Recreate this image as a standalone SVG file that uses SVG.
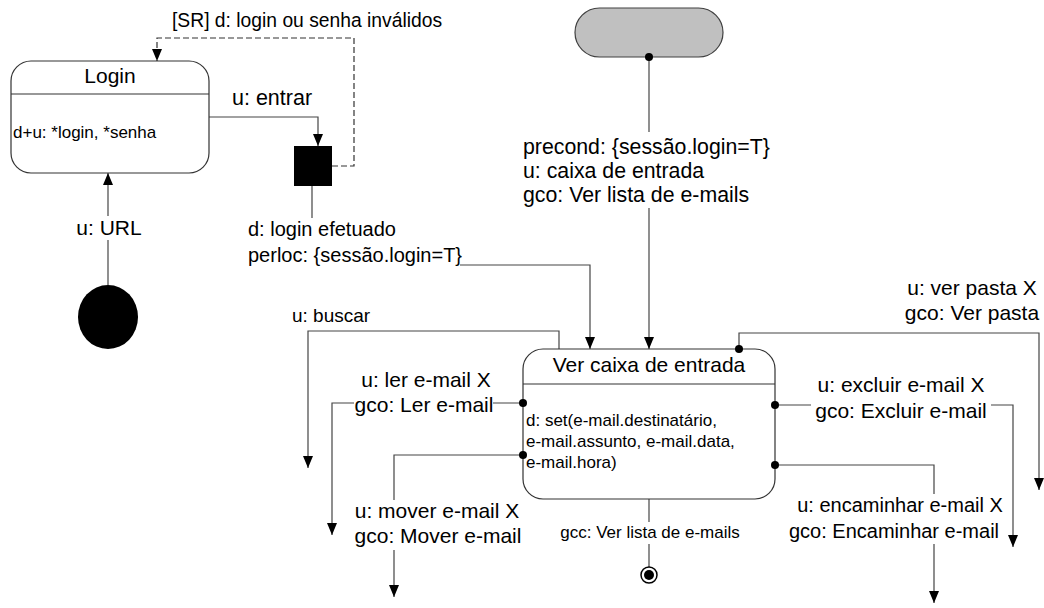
<svg xmlns="http://www.w3.org/2000/svg" width="1044" height="608" viewBox="0 0 1044 608">
  <style>
    .state { fill: #ffffff; stroke: #333333; stroke-width: 1.2; }
    .div { stroke: #333333; stroke-width: 1.2; }
    .conn { fill: none; stroke: #454545; stroke-width: 1.2; }
    .dash { stroke: #333333; stroke-dasharray: 6 3; }
    .dot { fill: #000000; }
    .lbl { font-family: "Liberation Sans", Arial, sans-serif; font-size: 20px; fill: #000000; }
    .big { font-size: 21px; }
    .title { font-family: "Liberation Sans", Arial, sans-serif; font-size: 21px; fill: #000000; text-anchor: middle; }
    .small { font-family: "Liberation Sans", Arial, sans-serif; font-size: 17px; fill: #000000; }
    .mid { text-anchor: middle; }
    .bg { fill: #ffffff; }
  </style>
  <defs>
    <marker id="arrow" viewBox="0 0 12 10" refX="12" refY="5" markerWidth="12" markerHeight="10" markerUnits="userSpaceOnUse" orient="auto">
      <path d="M0,0 L12,5 L0,10 z" fill="#000000"/>
    </marker>
  </defs>
  <rect width="1044" height="608" fill="#ffffff"/>

  <!-- transitions -->
  <g id="connectors">
    <path class="conn dash" d="M332,166 H354 V38 H157 V61" marker-end="url(#arrow)"/>
    <path class="conn" d="M209,117 H318 V146" marker-end="url(#arrow)"/>
    <path class="conn" d="M312,186 V265 H590 V349" marker-end="url(#arrow)"/>
    <path class="conn" d="M108,285 V173" marker-end="url(#arrow)"/>
    <path class="conn" d="M649,57 V349" marker-end="url(#arrow)"/>
    <path class="conn" d="M559,349 V331 H308 V468" marker-end="url(#arrow)"/>
    <path class="conn" d="M523,403 H332 V535" marker-end="url(#arrow)"/>
    <path class="conn" d="M523,455 H394 V597" marker-end="url(#arrow)"/>
    <path class="conn" d="M649,499 V567"/>
    <path class="conn" d="M739,349 V333 H1039 V490" marker-end="url(#arrow)"/>
    <path class="conn" d="M775,405 H1013 V547" marker-end="url(#arrow)"/>
    <path class="conn" d="M775,465 H934 V603" marker-end="url(#arrow)"/>
  </g>

  <!-- start: initial pseudo-state -->
  <g id="initial">
    <ellipse cx="108" cy="317" rx="30" ry="32" fill="#000000"/>
  </g>

  <!-- Login state -->
  <g id="login">
    <rect class="state" x="11" y="61" width="198" height="112" rx="20" ry="20"/>
    <line class="div" x1="11" y1="94" x2="209" y2="94"/>
    <text class="title" x="110" y="83">Login</text>
    <text class="small" x="13" y="138">d+u: *login, *senha</text>
  </g>

  <!-- choice after login -->
  <g id="login-choice">
    <rect x="294" y="146" width="38" height="40" fill="#000000"/>
  </g>

  <!-- external entry -->
  <g id="entry">
    <rect x="575" y="8" width="148" height="49" rx="24.5" ry="24.5" fill="#c0c0c0" stroke="#404040" stroke-width="1.2"/>
  </g>

  <!-- Ver caixa de entrada state -->
  <g id="ver-caixa">
    <rect class="state" x="523" y="349" width="252" height="150" rx="20" ry="20"/>
    <line class="div" x1="523" y1="384" x2="775" y2="384"/>
    <text class="title" x="649" y="372">Ver caixa de entrada</text>
    <text class="small" x="526" y="426">d: set(e-mail.destinatário,</text>
    <text class="small" x="526" y="447">e-mail.assunto, e-mail.data,</text>
    <text class="small" x="526" y="468">e-mail.hora)</text>
  </g>

  <!-- end state -->
  <g id="final">
    <circle cx="649" cy="575" r="8" fill="#ffffff" stroke="#000000" stroke-width="1.5"/>
    <circle cx="649" cy="575" r="5" fill="#000000"/>
  </g>

  <!-- port dots -->
  <g id="ports">
    <circle class="dot" cx="649" cy="57" r="4"/>
    <circle class="dot" cx="523" cy="403" r="4"/>
    <circle class="dot" cx="523" cy="455" r="4"/>
    <circle class="dot" cx="739" cy="349" r="4"/>
    <circle class="dot" cx="775" cy="405" r="4"/>
    <circle class="dot" cx="775" cy="465" r="4"/>
  </g>

  <!-- transition labels -->
  <g id="labels">
    <text class="lbl" x="172" y="27" style="font-size:19.3px">[SR] d: login ou senha inválidos</text>
    <text class="lbl" x="232" y="105" style="font-size:21.5px">u: entrar</text>

    <rect class="bg" x="74" y="216" width="70" height="24"/>
    <text class="lbl big mid" x="109" y="235">u: URL</text>

    <rect class="bg" x="246" y="218" width="214" height="50"/>
    <text class="lbl" x="248" y="236">d: login efetuado</text>
    <text class="lbl" x="248" y="262">perloc: {sessão.login=T}</text>

    <rect class="bg" x="521" y="132" width="252" height="76"/>
    <text class="lbl" x="523" y="154" style="font-size:21.3px">precond: {sessão.login=T}</text>
    <text class="lbl" x="523" y="178" style="font-size:21.3px">u: caixa de entrada</text>
    <text class="lbl" x="523" y="202" style="font-size:21.3px">gco: Ver lista de e-mails</text>

    <text class="lbl" x="292" y="322" style="font-size:19px">u: buscar</text>

    <text class="lbl big mid" x="426" y="387">u: ler e-mail X</text>
    <rect class="bg" x="354" y="396" width="139" height="20"/>
    <text class="lbl big mid" x="424" y="412">gco: Ler e-mail</text>

    <rect class="bg" x="352" y="500" width="172" height="50"/>
    <text class="lbl big mid" x="437" y="518">u: mover e-mail X</text>
    <text class="lbl big mid" x="438" y="543">gco: Mover e-mail</text>

    <rect class="bg" x="558" y="522" width="184" height="22"/>
    <text class="small mid" x="650" y="538">gcc: Ver lista de e-mails</text>

    <text class="lbl big mid" x="972" y="295">u: ver pasta X</text>
    <text class="lbl big mid" x="972" y="320">gco: Ver pasta</text>

    <rect class="bg" x="811" y="400" width="180" height="22"/>
    <text class="lbl big mid" x="901" y="392">u: excluir e-mail X</text>
    <text class="lbl big mid" x="901" y="418">gco: Excluir e-mail</text>

    <rect class="bg" x="786" y="494" width="216" height="50"/>
    <text class="lbl mid" x="900" y="512">u: encaminhar e-mail X</text>
    <text class="lbl mid" x="894" y="538">gco: Encaminhar e-mail</text>
  </g>
</svg>
